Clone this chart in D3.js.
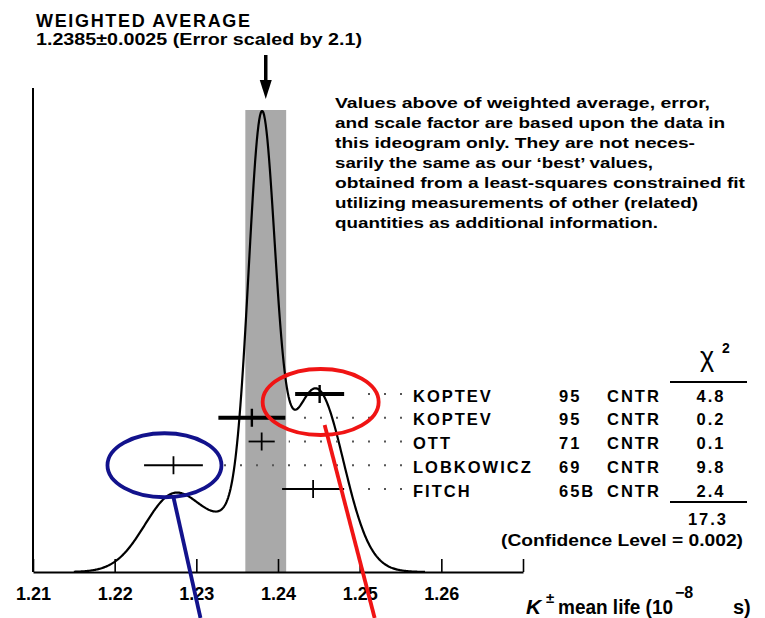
<!DOCTYPE html>
<html><head><meta charset="utf-8">
<script src="https://cdn.jsdelivr.net/npm/d3@7"></script>
<style>
html,body{margin:0;padding:0;background:#fff;}
svg{display:block;}
text{font-family:"Liberation Sans",Arial,Helvetica,sans-serif;font-weight:bold;fill:#000;}
</style></head>
<body>
<script>
// ---- data ----
const names   = ["KOPTEV", "KOPTEV", "OTT", "LOBKOWICZ", "FITCH"];
const years   = ["95", "95", "71", "69", "65B"];
const techs   = ["CNTR", "CNTR", "CNTR", "CNTR", "CNTR"];
const values  = [1.2451, 1.2368, 1.2380, 1.2272, 1.2443];
const errors  = [0.0030, 0.0041, 0.0016, 0.0036, 0.0038];
const chi2    = ["4.8", "0.2", "0.1", "9.8", "2.4"];
const chi2Total = "17.3";
const confLevel = "0.002";
const weightedAvg = 1.2385;
const weightedErr = 0.0025;
const errScale = "2.1";
const xTicks = [1.21, 1.22, 1.23, 1.24, 1.25, 1.26, 1.27];
const xTickLabels = ["1.21", "1.22", "1.23", "1.24", "1.25", "1.26", ""];
const noteLines = [
  "Values above of weighted average, error,",
  "and scale factor are based upon the data in",
  "this ideogram only.  They are not neces-",
  "sarily the same as our \u2018best\u2019 values,",
  "obtained from a least-squares constrained fit",
  "utilizing measurements of other (related)",
  "quantities as additional information."
];

// ---- layout ----
const W = 765, H = 618;
const svg = d3.select("body").append("svg").attr("width", W).attr("height", H);
const x = d3.scaleLinear().domain([1.21, 1.27]).range([33, 523]);
const axisY = 572;

// ideogram: each measurement a Gaussian of width err, area proportional to 1/err
const ideo = v => d3.sum(values, (m, i) => Math.exp(-0.5 * ((v - m) / errors[i]) ** 2) / (errors[i] * errors[i]));
const xs = d3.range(1.2150, 1.2581, 0.0001);
const curve = xs.map(v => [v, ideo(v)]);
const y = d3.scaleLinear().domain([0, d3.max(curve, d => d[1])]).range([axisY, 111]);
const row = d3.scalePoint().domain(d3.range(names.length)).range([394, 489]);

// weighted average band
svg.append("rect")
  .attr("x", x(weightedAvg - weightedErr)).attr("width", x(weightedAvg + weightedErr) - x(weightedAvg - weightedErr))
  .attr("y", 110).attr("height", axisY - 110)
  .attr("fill", "#a9a9a9");

// axes
svg.append("line").attr("x1", x(1.21)).attr("x2", x(1.21)).attr("y1", 88).attr("y2", axisY)
  .attr("stroke", "#000").attr("stroke-width", 2);
const ax = svg.append("g").attr("transform", `translate(0,${axisY})`)
  .call(d3.axisBottom(x).tickValues(xTicks).tickSizeInner(-13).tickSizeOuter(0)
        .tickFormat((d, i) => xTickLabels[i]));
ax.select(".domain").attr("stroke", "#000").attr("stroke-width", 2);
ax.selectAll(".tick line").attr("stroke", "#000").attr("stroke-width", 1.6);
ax.selectAll(".tick text").attr("y", 28).attr("dy", 0)
  .style("font-family", '"Liberation Sans",Arial,sans-serif').style("font-weight", "bold")
  .style("font-size", "18px").attr("fill", "#000");

// ideogram curve
svg.append("path").datum(curve)
  .attr("d", d3.line().x(d => x(d[0])).y(d => y(d[1])).curve(d3.curveLinear))
  .attr("fill", "none").attr("stroke", "#000").attr("stroke-width", 2.2).attr("stroke-linejoin", "round");

// dotted leaders (drawn right-to-left so dots align at the label end)
values.forEach((v, i) => {
  const x0 = x(v + errors[i]) + 14, x1 = 402;
  svg.append("path").attr("d", `M${x1},${row(i)}H${x0}`)
    .attr("stroke", "#555").attr("stroke-width", 2).attr("stroke-dasharray", "2,14").attr("fill", "none");
});

// error bars
values.forEach((v, i) => {
  const thick = i < 2;
  svg.append("line").attr("x1", x(v - errors[i])).attr("x2", x(v + errors[i]))
    .attr("y1", row(i)).attr("y2", row(i)).attr("stroke", "#000").attr("stroke-width", thick ? 4 : 1.8);
  svg.append("line").attr("x1", x(v)).attr("x2", x(v))
    .attr("y1", row(i) - 9).attr("y2", row(i) + 9).attr("stroke", "#000").attr("stroke-width", thick ? 2.4 : 1.8);
});

// table text
const tfont = 16.5, ls = 2;
const g = svg.append("g").style("font-size", tfont + "px").style("letter-spacing", ls + "px");
names.forEach((n, i) => {
  const by = row(i) + 7.5;
  g.append("text").attr("x", 413).attr("y", by).text(n);
  g.append("text").attr("x", 559).attr("y", by).text(years[i]);
  g.append("text").attr("x", 607).attr("y", by).text(techs[i]);
  g.append("text").attr("x", 711).attr("y", by).attr("text-anchor", "middle").text(chi2[i]);
});
svg.append("text").attr("x", 707).attr("y", 366).attr("text-anchor", "middle")
  .style("font-size", "27px").style("font-weight", "normal").text("\u03c7");
svg.append("text").attr("x", 722).attr("y", 353).style("font-size", "14px").text("2");
svg.append("line").attr("x1", 670).attr("x2", 747).attr("y1", 382).attr("y2", 382).attr("stroke", "#000").attr("stroke-width", 2);
svg.append("line").attr("x1", 670).attr("x2", 747).attr("y1", 502).attr("y2", 502).attr("stroke", "#000").attr("stroke-width", 2);
g.append("text").attr("x", 708).attr("y", 525).attr("text-anchor", "middle").text(chi2Total);
svg.append("text").attr("x", 501).attr("y", 546).style("font-size", tfont + "px")
  .attr("textLength", 242).attr("lengthAdjust", "spacingAndGlyphs")
  .text(`(Confidence Level = ${confLevel})`);

// titles
svg.append("text").attr("x", 36).attr("y", 27).style("font-size", "18px")
  .attr("textLength", 214).attr("lengthAdjust", "spacing").text("WEIGHTED AVERAGE");
svg.append("text").attr("x", 36).attr("y", 45).style("font-size", "17px")
  .attr("textLength", 326).attr("lengthAdjust", "spacingAndGlyphs")
  .text(`${weightedAvg.toFixed(4)}\u00b1${weightedErr.toFixed(4)} (Error scaled by ${errScale})`);

// arrow
const ax0 = x(weightedAvg);
svg.append("line").attr("x1", ax0).attr("x2", ax0).attr("y1", 55).attr("y2", 84).attr("stroke", "#000").attr("stroke-width", 3.5);
svg.append("path").attr("d", `M${ax0 - 6},80L${ax0 + 6},80L${ax0},99Z`).attr("fill", "#000");

// note paragraph
const noteW = [375, 390, 360, 318, 410, 363, 323];
noteLines.forEach((t, i) => {
  svg.append("text").attr("x", 335).attr("y", 108 + 20 * i).style("font-size", "15px")
    .attr("textLength", noteW[i]).attr("lengthAdjust", "spacingAndGlyphs").text(t);
});

// x-axis title
svg.append("text").attr("x", 526).attr("y", 614).style("font-size", "21px").style("font-style", "italic").text("K");
svg.append("text").attr("x", 546).attr("y", 603).style("font-size", "15px").text("\u00b1");
svg.append("text").attr("x", 558).attr("y", 614).style("font-size", "20px")
  .attr("textLength", 115).attr("lengthAdjust", "spacingAndGlyphs").text("mean life (10");
svg.append("text").attr("x", 675).attr("y", 598).style("font-size", "16px").text("\u22128");
svg.append("text").attr("x", 733).attr("y", 614).style("font-size", "20px").text("s)");

// annotation ellipses and pointer lines
const blue = "#12128c", red = "#f01414";
const bi = 3, ri = 0;
svg.append("ellipse").attr("cx", x(values[bi]) - 9).attr("cy", row(bi)).attr("rx", 57).attr("ry", 32)
  .attr("fill", "none").attr("stroke", blue).attr("stroke-width", 3.8);
svg.append("line").attr("x1", x(values[bi])).attr("y1", row(bi) + 32).attr("x2", x(values[bi]) + 27).attr("y2", H)
  .attr("stroke", blue).attr("stroke-width", 3.8);
svg.append("ellipse").attr("cx", x(values[ri]) + 1).attr("cy", row(ri) + 8).attr("rx", 58).attr("ry", 33)
  .attr("fill", "none").attr("stroke", red).attr("stroke-width", 3.8);
svg.append("line").attr("x1", x(values[ri]) + 5).attr("y1", row(ri) + 31).attr("x2", x(values[ri]) + 55).attr("y2", H)
  .attr("stroke", red).attr("stroke-width", 3.8);
</script>
</body></html>
